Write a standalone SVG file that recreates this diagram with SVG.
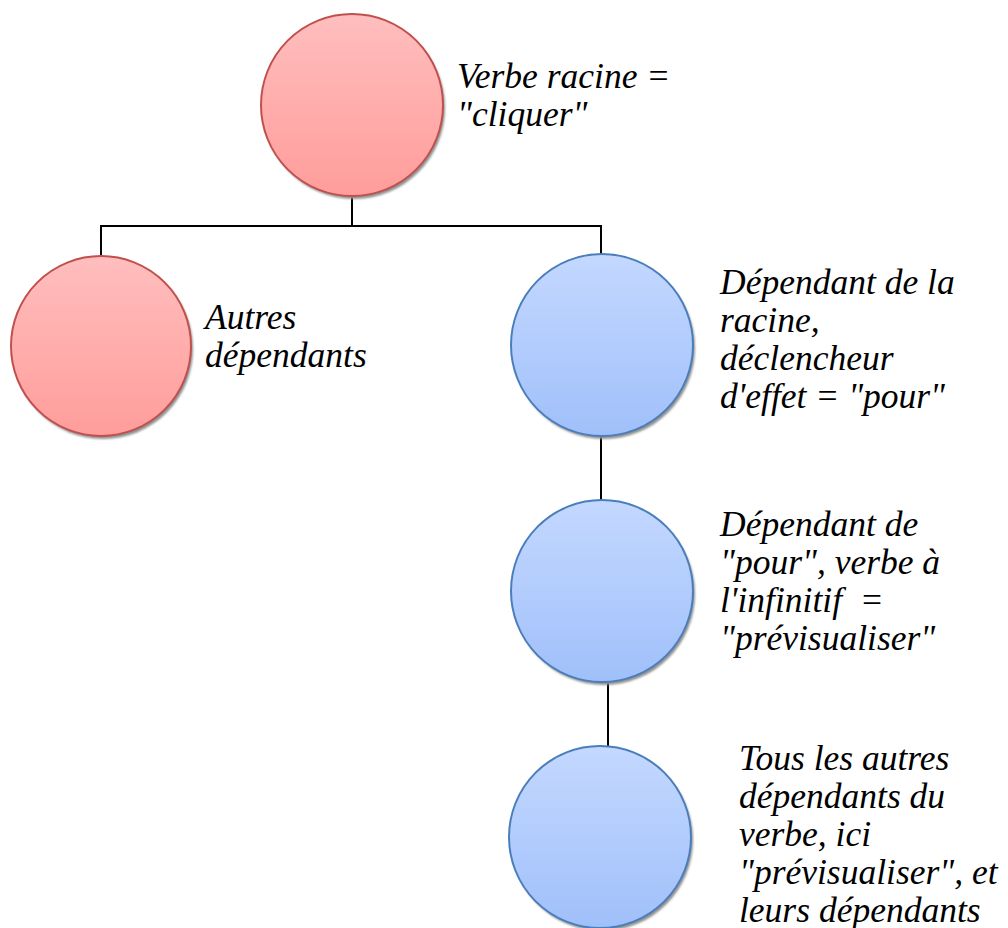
<svg xmlns="http://www.w3.org/2000/svg" width="1008" height="928" viewBox="0 0 1008 928">
  <defs>
    <linearGradient id="gRed" x1="0" y1="0" x2="0" y2="1">
      <stop offset="0" stop-color="#ffbebe"/>
      <stop offset="1" stop-color="#ff9d9b"/>
    </linearGradient>
    <linearGradient id="gBlue" x1="0" y1="0" x2="0" y2="1">
      <stop offset="0" stop-color="#c4d8ff"/>
      <stop offset="1" stop-color="#a0c0fa"/>
    </linearGradient>
    <filter id="soft" x="-10%" y="-10%" width="120%" height="120%">
      <feGaussianBlur stdDeviation="1.2"/>
    </filter>
  </defs>
  <style>
    .shadow { fill: #8f8f8f; filter: url(#soft); }
    .red { fill: url(#gRed); stroke: #c0504d; stroke-width: 2; }
    .blue { fill: url(#gBlue); stroke: #4a7ebb; stroke-width: 2; }
    .edge { fill: none; stroke: #000; stroke-width: 2; }
    .lbl { font-family: "Liberation Serif", "Times New Roman", serif; font-style: italic; font-size: 35.5px; fill: #000; white-space: pre; }
  </style>

  <rect width="1008" height="928" fill="#fff"/>

  <g id="connectors">
    <polyline class="edge" points="352,197 352,226"/>
    <polyline class="edge" points="101,257 101,226 601,226 601,255"/>
    <line class="edge" x1="601" y1="437" x2="601" y2="500"/>
    <line class="edge" x1="608" y1="683" x2="608" y2="747"/>
  </g>

  <g id="root">
    <circle class="shadow" cx="354" cy="108" r="91"/>
    <circle class="red" cx="352" cy="105" r="91"/>
    <text class="lbl" x="457" y="88">Verbe racine =</text>
    <text class="lbl" x="457" y="126">"cliquer"</text>
  </g>

  <g id="others">
    <circle class="shadow" cx="103" cy="349" r="90"/>
    <circle class="red" cx="101" cy="346" r="90"/>
    <text class="lbl" x="205" y="329">Autres</text>
    <text class="lbl" x="205" y="367">dépendants</text>
  </g>

  <g id="pour">
    <circle class="shadow" cx="604" cy="348" r="91"/>
    <circle class="blue" cx="602" cy="345" r="91"/>
    <text class="lbl" x="720" y="294">Dépendant de la</text>
    <text class="lbl" x="720" y="332">racine,</text>
    <text class="lbl" x="720" y="370">déclencheur</text>
    <text class="lbl" x="720" y="408">d'effet = "pour"</text>
  </g>

  <g id="previsualiser">
    <circle class="shadow" cx="604" cy="594" r="91"/>
    <circle class="blue" cx="602" cy="591" r="91"/>
    <text class="lbl" x="720" y="536">Dépendant de</text>
    <text class="lbl" x="720" y="574">"pour", verbe à</text>
    <text class="lbl" x="720" y="612">l'infinitif  =</text>
    <text class="lbl" x="720" y="650">"prévisualiser"</text>
  </g>

  <g id="dependants">
    <circle class="shadow" cx="602" cy="840" r="91"/>
    <circle class="blue" cx="600" cy="837" r="91"/>
    <text class="lbl" x="739" y="770">Tous les autres</text>
    <text class="lbl" x="739" y="808">dépendants du</text>
    <text class="lbl" x="739" y="846">verbe, ici</text>
    <text class="lbl" x="739" y="884">"prévisualiser", et</text>
    <text class="lbl" x="739" y="922">leurs dépendants</text>
  </g>
</svg>
